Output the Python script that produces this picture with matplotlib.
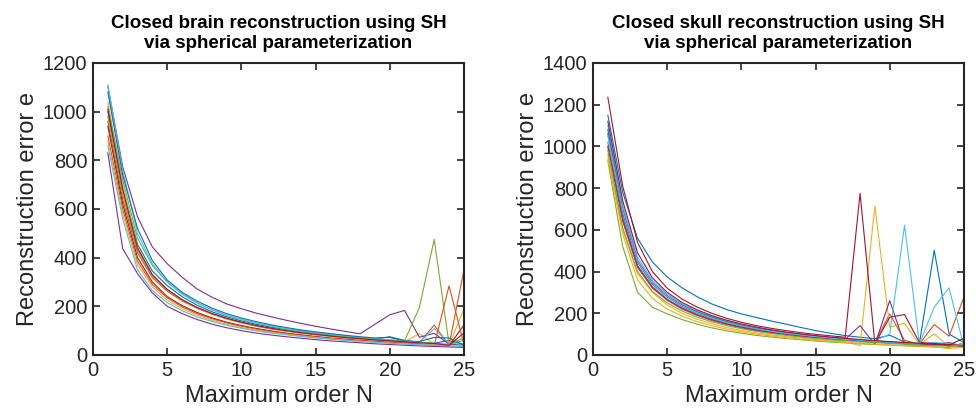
import numpy as np
import matplotlib
matplotlib.use("agg")
import matplotlib.pyplot as plt

plt.rcParams['font.family'] = ['Liberation Sans', 'DejaVu Sans']

orders = np.arange(1, 26)

# MATLAB default colour order
line_colors = ['#0072BD', '#D95319', '#EDB120', '#7E2F8E', '#77AC30', '#4DBEEE', '#A2142F']

# closed brain reconstruction errors, one list per subject
brain_01 = [1000, 690, 455, 345, 285, 240, 205, 178, 157, 140, 126, 114, 104, 95, 88, 81, 75, 70, 66, 75, 60, 52, 48, 60, 44]
brain_02 = [960, 640, 420, 318, 262, 222, 192, 168, 148, 132, 118, 107, 98, 90, 83, 77, 71, 66, 62, 58, 52, 50, 123, 40, 348]
brain_03 = [1040, 700, 440, 330, 268, 226, 194, 170, 150, 134, 120, 109, 100, 92, 85, 78, 72, 67, 62, 58, 54, 88, 45, 40, 188]
brain_04 = [1104, 774, 568, 444, 375, 320, 272, 238, 210, 190, 172, 157, 143, 130, 118, 107, 97, 87, 126, 165, 183, 73, 89, 45, 40]
brain_05 = [1020, 720, 480, 368, 300, 252, 215, 186, 164, 146, 131, 119, 108, 99, 91, 84, 78, 72, 67, 62, 58, 195, 475, 44, 60]
brain_06 = [1110, 760, 500, 375, 300, 250, 214, 186, 164, 146, 131, 119, 108, 99, 91, 84, 78, 72, 67, 62, 57, 53, 108, 48, 45]
brain_07 = [940, 620, 400, 300, 240, 203, 175, 153, 135, 121, 109, 99, 90, 83, 76, 70, 65, 60, 56, 52, 48, 44, 40, 38, 123]
brain_08 = [1080, 740, 520, 388, 308, 258, 222, 193, 170, 152, 137, 124, 113, 103, 95, 88, 81, 75, 70, 72, 58, 55, 72, 70, 40]
brain_09 = [900, 600, 385, 290, 235, 198, 170, 149, 132, 118, 106, 96, 88, 81, 74, 68, 63, 58, 54, 50, 47, 45, 40, 284, 45]
brain_10 = [880, 580, 370, 280, 225, 190, 164, 143, 127, 113, 102, 93, 85, 78, 72, 66, 61, 57, 53, 49, 46, 42, 40, 38, 36]
brain_11 = [830, 437, 334, 255, 200, 170, 146, 127, 112, 100, 90, 82, 75, 69, 63, 58, 54, 50, 46, 43, 40, 37, 35, 33, 31]
brain_12 = [980, 660, 430, 325, 268, 226, 195, 170, 150, 134, 121, 110, 101, 93, 86, 80, 74, 69, 64, 60, 56, 52, 48, 44, 70]
brain_13 = [860, 560, 350, 265, 215, 182, 157, 138, 122, 110, 99, 90, 83, 76, 70, 65, 60, 56, 52, 48, 45, 42, 40, 38, 35]
brain_14 = [1010, 680, 440, 330, 270, 228, 196, 171, 151, 135, 121, 110, 100, 92, 85, 78, 72, 67, 62, 58, 54, 50, 47, 40, 90]

# closed skull reconstruction errors
skull_01 = [1150, 780, 560, 446, 374, 322, 280, 245, 218, 197, 180, 163, 148, 132, 117, 104, 93, 85, 78, 95, 62, 55, 50, 45, 40]
skull_02 = [1000, 640, 420, 320, 262, 220, 190, 165, 146, 130, 117, 106, 97, 89, 82, 76, 71, 66, 62, 197, 70, 52, 146, 90, 277]
skull_03 = [960, 600, 390, 300, 240, 200, 172, 150, 132, 118, 106, 96, 88, 81, 74, 68, 63, 45, 714, 133, 152, 50, 101, 40, 38]
skull_04 = [1060, 680, 445, 340, 278, 234, 202, 176, 155, 139, 125, 113, 103, 95, 88, 81, 75, 141, 50, 261, 50, 48, 45, 60, 40]
skull_05 = [930, 520, 301, 229, 197, 170, 148, 130, 116, 104, 94, 86, 79, 73, 67, 62, 58, 54, 50, 47, 44, 41, 38, 36, 60]
skull_06 = [1100, 720, 470, 358, 292, 246, 212, 185, 163, 146, 131, 119, 108, 99, 91, 84, 78, 72, 67, 100, 622, 53, 60, 55, 45]
skull_07 = [1235, 810, 540, 400, 320, 268, 230, 200, 176, 157, 141, 128, 117, 107, 99, 92, 85, 775, 53, 181, 194, 60, 55, 50, 45]
skull_08 = [1080, 700, 455, 348, 284, 240, 207, 181, 160, 143, 129, 117, 107, 98, 90, 83, 77, 72, 67, 63, 58, 54, 502, 100, 60]
skull_09 = [1020, 660, 430, 328, 268, 226, 195, 170, 150, 134, 120, 109, 100, 92, 85, 79, 73, 68, 64, 60, 56, 52, 49, 46, 43]
skull_10 = [940, 580, 360, 272, 220, 186, 160, 140, 124, 111, 100, 91, 83, 76, 70, 65, 60, 56, 52, 48, 45, 42, 40, 30, 38]
skull_11 = [1000, 650, 425, 325, 265, 224, 193, 169, 149, 133, 120, 109, 99, 91, 84, 78, 72, 67, 63, 59, 55, 52, 49, 46, 44]
skull_12 = [980, 610, 400, 305, 250, 211, 182, 159, 141, 126, 113, 103, 94, 86, 79, 73, 68, 63, 59, 55, 51, 48, 45, 42, 50]
skull_13 = [1050, 690, 450, 343, 280, 236, 203, 177, 156, 140, 126, 114, 104, 96, 88, 81, 75, 70, 65, 61, 57, 53, 229, 322, 40]
skull_14 = [1120, 740, 490, 370, 300, 252, 217, 189, 167, 149, 134, 121, 110, 101, 93, 86, 80, 74, 69, 64, 60, 56, 52, 48, 80]

brain_runs = [brain_01, brain_02, brain_03, brain_04, brain_05, brain_06, brain_07,
              brain_08, brain_09, brain_10, brain_11, brain_12, brain_13, brain_14]
skull_runs = [skull_01, skull_02, skull_03, skull_04, skull_05, skull_06, skull_07,
              skull_08, skull_09, skull_10, skull_11, skull_12, skull_13, skull_14]

dark = '#262626'

fig = plt.figure(figsize=(9.76, 4.11), dpi=100)
ax1 = fig.add_axes([0.0953, 0.1363, 0.380, 0.7105])
ax2 = fig.add_axes([0.6076, 0.1363, 0.380, 0.7105])

panels = [
    (ax1, brain_runs, 1200, "Closed brain reconstruction using SH\nvia spherical parameterization"),
    (ax2, skull_runs, 1400, "Closed skull reconstruction using SH\nvia spherical parameterization"),
]

for ax, runs, ymax, title in panels:
    for i, run in enumerate(runs):
        ax.plot(orders, run, color=line_colors[i % 7], linewidth=0.8)
    ax.set_xlim(0, 25)
    ax.set_ylim(0, ymax)
    ax.set_xticks([0, 5, 10, 15, 20, 25])
    ax.set_yticks(np.arange(0, ymax + 1, 200))
    ax.tick_params(direction='in', top=True, right=True, length=5, width=1.2,
                   labelsize=14.5, colors=dark, pad=4)
    for s in ax.spines.values():
        s.set_linewidth(1.5)
        s.set_color(dark)
    ax.set_xlabel("Maximum order N", fontsize=17, color=dark, labelpad=4)
    ax.set_ylabel("Reconstruction error e", fontsize=17, color=dark, labelpad=3)
    ax.set_title(title, fontsize=13.5, fontweight='bold', color='black', pad=11, linespacing=1.2)

fig.savefig("out.png", dpi=100)
